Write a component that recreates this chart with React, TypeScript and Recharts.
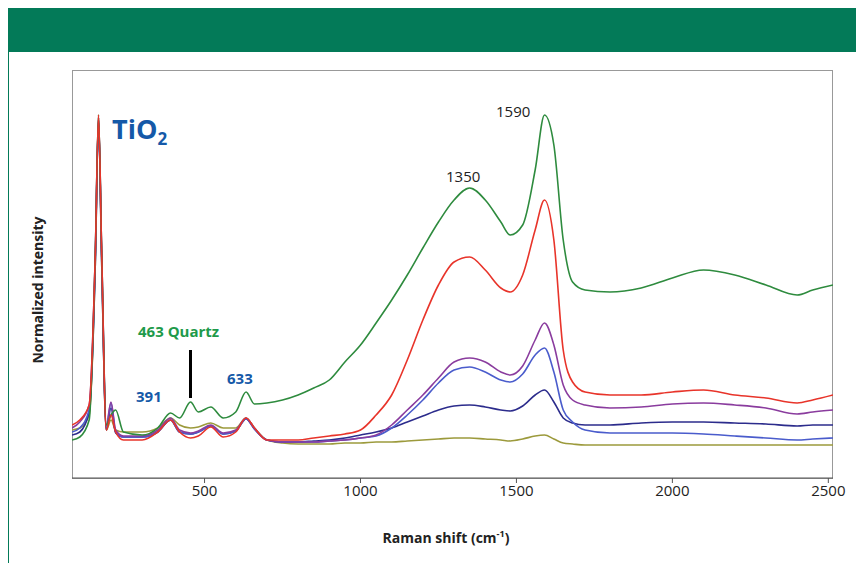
import { LineChart, Line, XAxis, YAxis, ReferenceLine } from "recharts";

// Raman shift (cm-1) sample points
const SHIFT = [75, 100, 130, 150, 160, 170, 185, 200, 215, 240, 300, 350, 391, 420, 455, 480, 520, 560, 600, 633, 660, 700, 750, 800, 850, 900, 950, 1000, 1050, 1100, 1150, 1200, 1250, 1300, 1350, 1400, 1450, 1480, 1520, 1560, 1590, 1620, 1650, 1680, 1720, 1800, 1900, 2000, 2100, 2200, 2300, 2400, 2450, 2515];

// normalized intensity (arbitrary units) per spectrum
const GREEN = [38, 41, 58, 228, 363, 228, 53, 63, 68, 46, 43, 50, 65, 60, 76, 66, 71, 60, 66, 86, 74, 75, 78, 83, 90, 98, 116, 133, 155, 178, 203, 230, 256, 278, 290, 278, 256, 243, 253, 308, 363, 333, 238, 196, 188, 186, 190, 200, 208, 203, 193, 183, 188, 193];
const RED = [53, 58, 73, 228, 363, 228, 48, 63, 46, 38, 38, 46, 58, 46, 40, 42, 51, 41, 46, 60, 50, 38, 38, 38, 40, 42, 44, 48, 63, 83, 118, 158, 193, 216, 221, 208, 190, 186, 203, 248, 278, 238, 128, 96, 86, 83, 83, 86, 88, 83, 80, 75, 78, 83];
const PURPLE = [50, 56, 73, 228, 361, 228, 53, 76, 48, 42, 42, 48, 60, 48, 45, 47, 53, 45, 48, 60, 50, 38, 36, 36, 36, 37, 38, 40, 43, 53, 68, 83, 100, 116, 120, 116, 106, 103, 112, 138, 155, 133, 93, 78, 73, 70, 71, 74, 75, 73, 70, 64, 66, 68];
const BLUE = [46, 50, 68, 223, 360, 223, 50, 75, 46, 41, 41, 46, 58, 46, 44, 46, 52, 44, 47, 59, 49, 38, 36, 36, 36, 37, 38, 40, 42, 50, 63, 78, 95, 108, 111, 106, 98, 96, 104, 123, 130, 106, 68, 56, 48, 45, 45, 45, 44, 42, 40, 38, 39, 40];
const NAVY = [43, 46, 66, 218, 358, 218, 48, 70, 45, 41, 41, 46, 58, 46, 44, 46, 52, 44, 47, 59, 49, 38, 36, 36, 37, 38, 40, 43, 46, 50, 56, 62, 68, 72, 73, 71, 68, 67, 72, 83, 88, 76, 60, 55, 53, 53, 55, 56, 56, 55, 54, 52, 53, 53];
const OLIVE = [48, 50, 63, 218, 360, 218, 48, 58, 48, 46, 46, 50, 60, 53, 50, 51, 55, 50, 50, 60, 50, 38, 35, 34, 34, 34, 35, 35, 36, 36, 37, 38, 39, 40, 40, 39, 38, 37, 39, 42, 43, 39, 35, 34, 33, 33, 33, 33, 33, 33, 33, 33, 33, 33];

const X_TICKS = [500, 1000, 1500, 2000, 2500];

const SERIES = [
  { key: "olive", values: OLIVE, color: "#9c9a3c" },
  { key: "navy", values: NAVY, color: "#2c2c8c" },
  { key: "blue", values: BLUE, color: "#4a5ccc" },
  { key: "purple", values: PURPLE, color: "#8a3c9e" },
  { key: "green", values: GREEN, color: "#2e8b3e" },
  { key: "red", values: RED, color: "#e8342a" },
];

const data = SHIFT.map((x, i) => {
  const row: Record<string, number> = { x };
  SERIES.forEach((s) => (row[s.key] = s.values[i]));
  return row;
});

const FONT = "'Open Sans', sans-serif";

export default function App() {
  return (
    <div style={{ position: "relative", width: 856, height: 555, fontFamily: FONT, background: "#fff" }}>
      <div style={{ position: "absolute", left: 0, top: 0, width: 856, height: 44, background: "#037a58" }} />
      <div style={{ position: "absolute", left: 0, top: 44, width: 1, height: 511, background: "#037a58" }} />
      {/* plot frame */}
      <div style={{ position: "absolute", left: 64, top: 62, width: 761, height: 409, border: "1px solid #999", boxSizing: "border-box" }} />
      <LineChart width={856} height={555} data={data} margin={{ top: 62, left: 64, right: 31, bottom: 55 }}>
        <XAxis
          dataKey="x"
          type="number"
          domain={[75, 2515]}
          ticks={X_TICKS}
          allowDataOverflow
          stroke="#555"
          tickSize={5}
          tick={{ fill: "#222", fontSize: 15, fontFamily: FONT }}
        />
        <YAxis hide domain={[0, 408]} />
        <ReferenceLine segment={[{ x: 455, y: 80 }, { x: 455, y: 128 }]} stroke="#000" strokeWidth={3} />
        {SERIES.map((s) => (
          <Line key={s.key} type="monotone" dataKey={s.key} stroke={s.color} strokeWidth={1.6} dot={false} isAnimationActive={false} />
        ))}
      </LineChart>
      <div style={{ position: "absolute", left: 104, top: 102, color: "#1559a8", fontSize: 27, fontWeight: 700 }}>
        TiO<sub style={{ fontSize: 17, verticalAlign: -6 }}>2</sub>
      </div>
      <div style={{ position: "absolute", left: 130, top: 313, color: "#1e9a4a", fontSize: 15, fontWeight: 700 }}>463 Quartz</div>
      <div style={{ position: "absolute", left: 128, top: 378, color: "#1559a8", fontSize: 15, fontWeight: 700 }}>391</div>
      <div style={{ position: "absolute", left: 219, top: 360, color: "#1559a8", fontSize: 15, fontWeight: 700 }}>633</div>
      <div style={{ position: "absolute", left: 438, top: 158, color: "#222", fontSize: 15 }}>1350</div>
      <div style={{ position: "absolute", left: 488, top: 93, color: "#222", fontSize: 15 }}>1590</div>
      <div style={{ position: "absolute", left: 0, top: 519, width: 856, paddingLeft: 20, boxSizing: "border-box", textAlign: "center", color: "#222", fontSize: 14, fontWeight: 700 }}>
        Raman shift (cm<sup style={{ fontSize: 9 }}>-1</sup>)
      </div>
      <div
        style={{
          position: "absolute", left: 29, top: 282, color: "#222", fontSize: 14, fontWeight: 700,
          transform: "translate(-50%, -50%) rotate(-90deg)", whiteSpace: "nowrap",
        }}
      >
        Normalized intensity
      </div>
    </div>
  );
}
